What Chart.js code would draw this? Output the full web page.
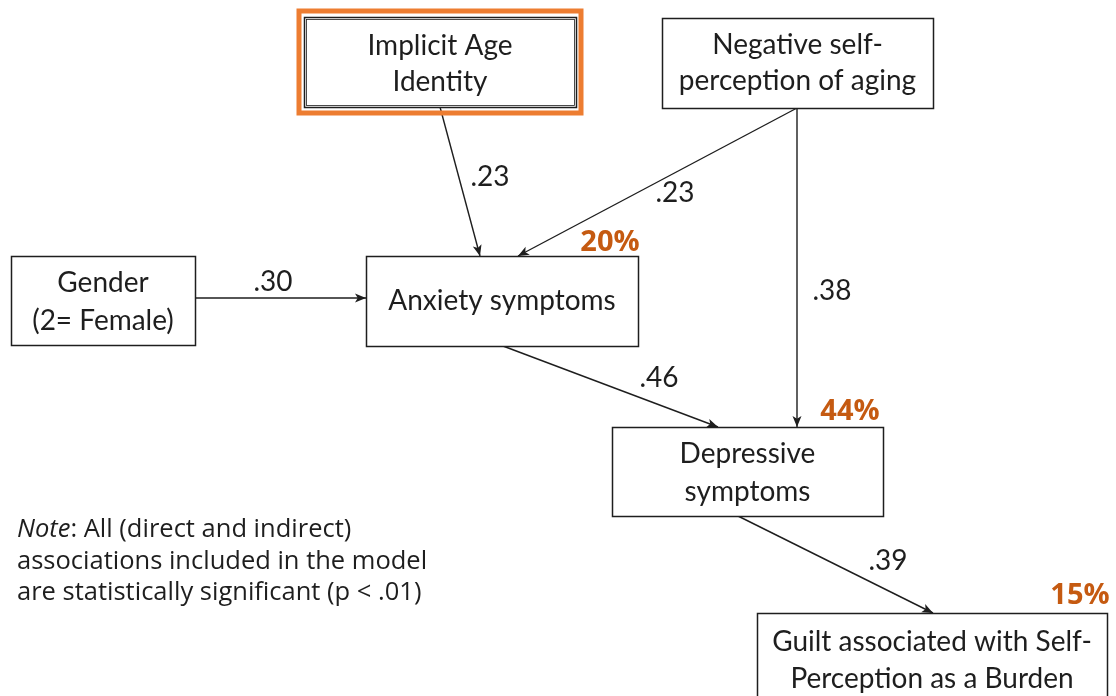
<!DOCTYPE html>
<html>
<head>
<meta charset="utf-8">
<script src="https://cdn.jsdelivr.net/npm/chart.js@4/dist/chart.umd.min.js"></script>
<style>
  html, body { margin: 0; padding: 0; background: #fff; }
  #wrap { width: 1116px; height: 696px; position: relative; }
</style>
</head>
<body>
<div id="wrap"><canvas id="path-model" width="1116" height="696"></canvas></div>
<script>
// Model variables (text broken into lines as in the figure)
var nodeLabels = [
    ['Implicit Age', 'Identity'],
    ['Negative self-', 'perception of aging'],
    ['Gender', '(2= Female)'],
    ['Anxiety symptoms'],
    ['Depressive', 'symptoms'],
    ['Guilt associated with Self-', 'Perception as a Burden']
];

// Paths: from -> to, standardised coefficient
var pathFrom = [0, 1, 2, 1, 3, 4];
var pathTo   = [3, 3, 3, 4, 4, 5];
var pathCoef = ['.23', '.23', '.30', '.38', '.46', '.39'];

// Explained variance (R²) for the outcomes
var r2Node  = [3, 4, 5];
var r2Value = ['20%', '44%', '15%'];

var noteLines = ['All (direct and indirect)', 'associations included in the model', 'are statistically significant (p < .01)'];

/////////////////////////////////////////////////////////////////////////////////
// Layout (in the 1116 x 696 coordinate space of the axes)

var boxes = [
    { x1: 304, y1: 17,  x2: 576,  y2: 107, lineY: [46, 82] },
    { x1: 662, y1: 18,  x2: 933,  y2: 108, lineY: [45, 81] },
    { x1: 11,  y1: 256, x2: 195,  y2: 345, lineY: [283, 321] },
    { x1: 366, y1: 256, x2: 638,  y2: 346, lineY: [301] },
    { x1: 612, y1: 427, x2: 883,  y2: 516, lineY: [454, 492] },
    { x1: 757, y1: 613, x2: 1107, y2: 705, lineY: [642, 679] }
];
var highlightBox = { x1: 299, y1: 11, x2: 581, y2: 113 };

// arrow start and end points for each path
var pathStart = [[440, 107], [797, 108], [195, 298], [797, 108], [503, 346], [738, 516]];
var pathEnd   = [[480, 256], [518, 256], [366, 298], [797, 427], [718, 427], [933, 613]];
var coefPos   = [[490, 177], [675, 193], [273, 282], [832, 291], [659, 378], [888, 561]];
var r2Pos     = [[610, 243], [850, 412], [1080, 596]];

var boxFont = '28px Lato, "Open Sans", sans-serif';
var inkColor = '#1e1e1e';

/////////////////////////////////////////////////////////////////////////////////

var pathDatasets = pathFrom.map(function (f, i) {
    return {
        label: nodeLabels[f].join(' ') + ' -> ' + nodeLabels[pathTo[i]].join(' '),
        data: [
            { x: pathStart[i][0], y: pathStart[i][1] },
            { x: pathEnd[i][0], y: pathEnd[i][1] }
        ],
        showLine: true,
        borderColor: inkColor,
        borderWidth: 1.4,
        pointRadius: 0,
        clip: false
    };
});

// boxes, arrowheads and texts
var diagramPlugin = {
    id: 'diagram',
    afterDatasetsDraw: function (chart) {
        var c = chart.ctx;
        var xs = chart.scales.x, ys = chart.scales.y;
        var px = function (v) { return xs.getPixelForValue(v); };
        var py = function (v) { return ys.getPixelForValue(v); };

        c.save();

        // arrowheads
        chart.data.datasets.forEach(function (ds, i) {
            var pts = chart.getDatasetMeta(i).data;
            var a = pts[0], b = pts[1];
            var ang = Math.atan2(b.y - a.y, b.x - a.x);
            var len = 11, half = 4.5;
            c.fillStyle = inkColor;
            c.beginPath();
            c.moveTo(b.x, b.y);
            c.lineTo(b.x - len * Math.cos(ang) + half * Math.sin(ang), b.y - len * Math.sin(ang) - half * Math.cos(ang));
            c.lineTo(b.x - len * 0.75 * Math.cos(ang), b.y - len * 0.75 * Math.sin(ang));
            c.lineTo(b.x - len * Math.cos(ang) - half * Math.sin(ang), b.y - len * Math.sin(ang) + half * Math.cos(ang));
            c.closePath();
            c.fill();
        });

        // orange frame around the implicit measure
        c.strokeStyle = '#ED7D31';
        c.lineWidth = 5;
        c.strokeRect(px(highlightBox.x1), py(highlightBox.y1),
            px(highlightBox.x2) - px(highlightBox.x1), py(highlightBox.y2) - py(highlightBox.y1));

        // variable boxes
        boxes.forEach(function (b, i) {
            var x1 = px(b.x1), y1 = py(b.y1), w = px(b.x2) - x1, h = py(b.y2) - y1;
            c.fillStyle = '#ffffff';
            c.fillRect(x1, y1, w, h);
            c.strokeStyle = inkColor;
            c.lineWidth = 1.5;
            c.strokeRect(x1 + 0.5, y1 + 0.5, w, h);
            if (i === 0) {
                c.lineWidth = 0.8;
                c.strokeRect(x1 + 2.5, y1 + 2.5, w - 4, h - 4);
            }
            c.fillStyle = inkColor;
            c.font = boxFont;
            c.textAlign = 'center';
            c.textBaseline = 'middle';
            nodeLabels[i].forEach(function (line, k) {
                c.fillText(line, x1 + w / 2, py(b.lineY[k]));
            });
        });

        // path coefficients
        c.font = boxFont;
        c.fillStyle = inkColor;
        pathCoef.forEach(function (t, i) {
            c.fillText(t, px(coefPos[i][0]), py(coefPos[i][1]));
        });

        // R² values
        c.font = 'bold 29px "Open Sans", sans-serif';
        c.fillStyle = '#C55A11';
        r2Value.forEach(function (t, i) {
            c.fillText(t, px(r2Pos[i][0]), py(r2Pos[i][1]));
        });

        // note
        c.textAlign = 'left';
        c.fillStyle = inkColor;
        var noteFont = '25.5px "Open Sans", sans-serif';
        c.font = 'italic ' + noteFont;
        var nw = c.measureText('Note').width;
        c.fillText('Note', px(17), py(530));
        c.font = noteFont;
        c.fillText(': ' + noteLines[0], px(17) + nw, py(530));
        c.fillText(noteLines[1], px(17), py(562));
        c.fillText(noteLines[2], px(17), py(593));

        c.restore();
    }
};

var ctx = document.getElementById('path-model');

var chartOptions = {
    responsive: false,
    animation: false,
    devicePixelRatio: 1,
    layout: { padding: 0 },
    plugins: { legend: { display: false }, tooltip: { enabled: false } },
    scales: {
        x: { type: 'linear', min: 0, max: 1116, display: false },
        y: { type: 'linear', min: 0, max: 696, reverse: true, display: false }
    }
};

var pathChart = new Chart(ctx, {
    type: 'scatter',
    data: { datasets: pathDatasets },
    options: chartOptions,
    plugins: [diagramPlugin]
});
</script>
</body>
</html>
